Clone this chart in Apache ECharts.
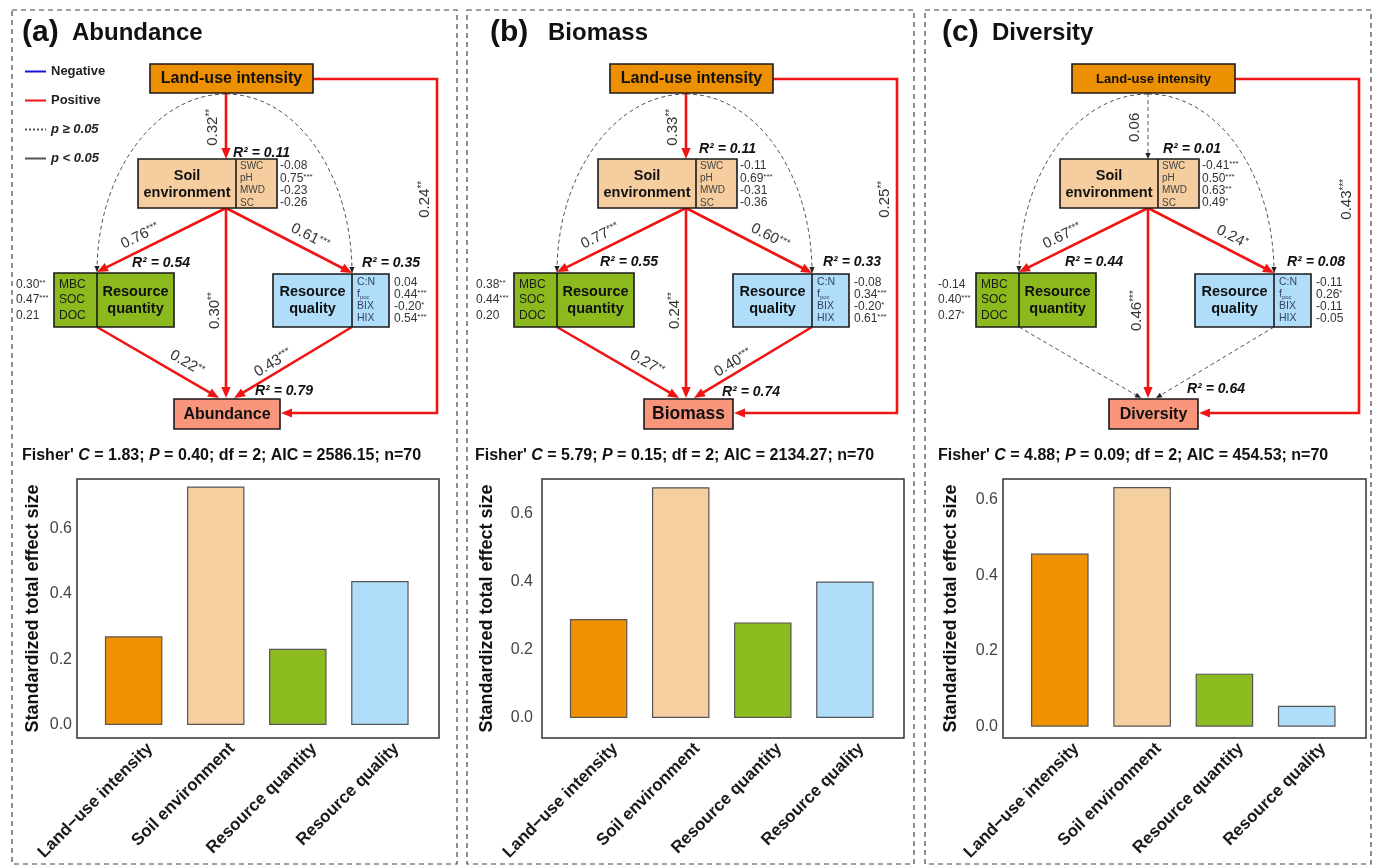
<!DOCTYPE html>
<html>
<head>
<meta charset="utf-8">
<script src="https://cdn.jsdelivr.net/npm/echarts@6/dist/echarts.min.js"></script>
<style>
html, body { margin: 0; background: #fff; }
#main { width: 1378px; height: 866px; }
</style>
</head>
<body>
<div id="main"></div>
<script>
// ---------- data ----------
var categories = ['Land\u2212use intensity', 'Soil environment', 'Resource quantity', 'Resource quality'];
var effectAbundance = [0.27, 0.727, 0.232, 0.439];
var effectBiomass   = [0.29, 0.676, 0.28, 0.40];
var effectDiversity = [0.457, 0.633, 0.14, 0.055];
var yTicks = [0, 0.2, 0.4, 0.6];

var panelTags = ['(a)', '(b)', '(c)'];
var responses = ['Abundance', 'Biomass', 'Diversity'];

// path order: LUI>Soil, LUI>Resp, Soil>Quan, Soil>Qual, Soil>Resp, Quan>Resp, Qual>Resp, LUI>Quan, LUI>Qual
var pathAbundance = [0.32, 0.24, 0.76, 0.61, 0.30, 0.22, 0.43, null, null];
var starAbundance = ['**', '**', '***', '***', '**', '**', '***', '', ''];
var pathBiomass   = [0.33, 0.25, 0.77, 0.60, 0.24, 0.27, 0.40, null, null];
var starBiomass   = ['**', '**', '***', '***', '**', '**', '***', '', ''];
var pathDiversity = [0.06, 0.43, 0.67, 0.24, 0.46, null, null, null, null];
var starDiversity = ['', '***', '***', '*', '***', '', '', '', ''];

// R2 : soil, quantity, quality, response
var r2Abundance = [0.11, 0.54, 0.35, 0.79];
var r2Biomass   = [0.11, 0.55, 0.33, 0.74];
var r2Diversity = [0.01, 0.44, 0.08, 0.64];

var soilVars = ['SWC', 'pH', 'MWD', 'SC'];
var quanVars = ['MBC', 'SOC', 'DOC'];
var qualVars = ['C:N', 'f{u|poc}', 'BIX', 'HIX'];

var soilLoadAbundance = [-0.08, 0.75, -0.23, -0.26];
var soilStarAbundance = ['', '***', '', ''];
var soilLoadBiomass   = [-0.11, 0.69, -0.31, -0.36];
var soilStarBiomass   = ['', '***', '', ''];
var soilLoadDiversity = [-0.41, 0.50, 0.63, 0.49];
var soilStarDiversity = ['***', '***', '**', '*'];

var quanLoadAbundance = [0.30, 0.47, 0.21];
var quanStarAbundance = ['**', '***', ''];
var quanLoadBiomass   = [0.38, 0.44, 0.20];
var quanStarBiomass   = ['**', '***', ''];
var quanLoadDiversity = [-0.14, 0.40, 0.27];
var quanStarDiversity = ['', '***', '*'];

var qualLoadAbundance = [0.04, 0.44, -0.20, 0.54];
var qualStarAbundance = ['', '***', '*', '***'];
var qualLoadBiomass   = [-0.08, 0.34, -0.20, 0.61];
var qualStarBiomass   = ['', '***', '*', '***'];
var qualLoadDiversity = [-0.11, 0.26, -0.11, -0.05];
var qualStarDiversity = ['', '*', '', ''];

var fisherC   = [1.83, 5.79, 4.88];
var fisherP   = [0.40, 0.15, 0.09];
var fisherDf  = [2, 2, 2];
var fisherAIC = [2586.15, 2134.27, 454.53];
var fisherN   = [70, 70, 70];

// ---------- grouping ----------
var EFFECTS = [effectAbundance, effectBiomass, effectDiversity];
var PATHS = [pathAbundance, pathBiomass, pathDiversity];
var STARS = [starAbundance, starBiomass, starDiversity];
var R2 = [r2Abundance, r2Biomass, r2Diversity];
var SOIL = [[soilLoadAbundance, soilStarAbundance], [soilLoadBiomass, soilStarBiomass], [soilLoadDiversity, soilStarDiversity]];
var QUAN = [[quanLoadAbundance, quanStarAbundance], [quanLoadBiomass, quanStarBiomass], [quanLoadDiversity, quanStarDiversity]];
var QUAL = [[qualLoadAbundance, qualStarAbundance], [qualLoadBiomass, qualStarBiomass], [qualLoadDiversity, qualStarDiversity]];

// ---------- layout / style ----------
var FONT = '"Liberation Sans", Arial, Helvetica, sans-serif';
var BAR_COLORS = ['#EF9100', '#F5CFA0', '#8DBC20', '#B0DEFA'];
var POS_COLOR = '#F01414', NEG_COLOR = '#1414E0', NS_COLOR = '#555';
var PANEL_X = [0, 460, 922];
var FRAMES = [[12, 457], [467, 914], [925, 1371]];
var BAR_GRID = [[77, 362], [542, 362], [1003, 363]];
var Y_RANGE = [[-0.04, 0.75], [-0.0585, 0.70], [-0.03, 0.654]];
var NAME_GAP = [35, 46, 43];
var LABEL_MARGIN = [5, 9, 5];
var TITLE_X = [[22, 72], [490, 548], [942, 992]];
var FISHER_X = [22, 475, 938];

var BOX = {
  lui:  {x0: 150, y0: 64,  x1: 313, y1: 93},
  soil: {x0: 138, y0: 159, x1: 277, y1: 208, div: 236},
  quan: {x0: 54,  y0: 273, x1: 174, y1: 327, div: 97},
  qual: {x0: 273, y0: 274, x1: 389, y1: 327, div: 352}
};
var RESP_BOX = [[174, 280], [184, 273], [187, 276]];
var RESP_FONT = [16, 17.5, 16];
var LUI_FONT = [16, 16, 13];
var R2_POS = [
  [[233, 153], [132, 263], [362, 263], [255, 391]],
  [[239, 149], [140, 262], [363, 262], [262, 392]],
  [[241, 149], [143, 262], [365, 262], [265, 389]]
];
var EDGE_GEOM = [
  {pts: [[226, 93], [226, 159]], seg: 0, t: 0.52, d: 13},
  {pts: [[313, 79], [437, 79], [437, 413], [null, 413]], seg: 1, t: 0.36, d: 12},
  {pts: [[226, 208], [97, 272]], seg: 0, t: 0.62, d: 13},
  {pts: [[226, 208], [352, 273]], seg: 0, t: 0.62, d: 13},
  {pts: [[226, 208], [226, 398]], seg: 0, t: 0.54, d: 11},
  {pts: [[97, 327], [219, 398]], seg: 0, t: 0.68, d: 14},
  {pts: [[352, 327], [234, 398]], seg: 0, t: 0.625, d: 10},
  {curve: [[226, 94], [155, 94], [97, 174], [97, 272]]},
  {curve: [[226, 94], [296, 94], [352, 174], [352, 273]]}
];

function fmt(v) { return v.toFixed(2); }
function starText(v, st) { return '{v|' + fmt(v) + '}' + (st ? '{s|' + st + '}' : ''); }
function starRich(size, color) {
  return {
    v: {fontSize: size, fontFamily: FONT, fill: color},
    s: {fontSize: Math.round(size * 0.66), fontFamily: FONT, fill: color, verticalAlign: 'top'}
  };
}

function textEl(pt, text, style) {
  var st = {text: text, fontFamily: FONT, fill: '#222', align: 'left', verticalAlign: 'middle'};
  for (var k in style) st[k] = style[k];
  return {type: 'text', x: pt[0], y: pt[1], style: st};
}

function rectEl(api, x0, y0, x1, y1, fill) {
  var a = api.coord([x0, y0]), b = api.coord([x1, y1]);
  return {type: 'rect', shape: {x: a[0], y: a[1], width: b[0] - a[0], height: b[1] - a[1]},
    style: {fill: fill, stroke: '#1a1a1a', lineWidth: 1.6}};
}
function divEl(api, x, y0, y1) {
  var a = api.coord([x, y0]), b = api.coord([x, y1]);
  return {type: 'line', shape: {x1: a[0], y1: a[1], x2: b[0], y2: b[1]}, style: {stroke: '#1a1a1a', lineWidth: 1.6}};
}
function r2El(api, p, i) {
  return textEl(api.coord(R2_POS[p][i]), 'R\u00b2 = ' + fmt(R2[p][i]),
    {fontSize: 14, fontWeight: 'bold', fontStyle: 'italic', fill: '#111'});
}

function renderEdge(p, k, api) {
  var g = EDGE_GEOM[k];
  var coef = PATHS[p][k], st = STARS[p][k];
  var sig = st !== '';
  var color = sig ? (coef < 0 ? NEG_COLOR : POS_COLOR) : NS_COLOR;
  var lw = sig ? 2.6 : 1;
  var headL = sig ? 11 : 6, headW = sig ? 4.6 : 2.6;
  var headFill = sig ? color : '#222';
  var children = [];
  var tip, from, pts;
  if (g.curve) {
    var c = g.curve.map(function (pt) { return api.coord(pt); });
    children.push({type: 'bezierCurve',
      shape: {x1: c[0][0], y1: c[0][1], cpx1: c[1][0], cpy1: c[1][1], cpx2: c[2][0], cpy2: c[2][1], x2: c[3][0], y2: c[3][1]},
      style: {stroke: color, lineWidth: lw, lineDash: sig ? null : [4, 3], fill: null}});
    tip = c[3]; from = c[2];
  } else {
    pts = g.pts.map(function (pt) {
      return api.coord([pt[0] === null ? RESP_BOX[p][1] + 1 : pt[0], pt[1]]);
    });
    tip = pts[pts.length - 1]; from = pts[pts.length - 2];
    var len = Math.hypot(tip[0] - from[0], tip[1] - from[1]);
    var cut = headL * 0.7 / len;
    var line = pts.slice(0, pts.length - 1);
    line.push([tip[0] - (tip[0] - from[0]) * cut, tip[1] - (tip[1] - from[1]) * cut]);
    children.push({type: 'polyline', shape: {points: line},
      style: {stroke: color, lineWidth: lw, lineDash: sig ? null : [4, 3], fill: null}});
  }
  var ux = tip[0] - from[0], uy = tip[1] - from[1];
  var ul = Math.hypot(ux, uy); ux /= ul; uy /= ul;
  var bx = tip[0] - ux * headL, by = tip[1] - uy * headL;
  children.push({type: 'polygon',
    shape: {points: [tip, [bx - uy * headW, by + ux * headW], [bx + uy * headW, by - ux * headW]]},
    style: {fill: headFill}});

  if (coef !== null && pts) {
    var a = pts[g.seg], b = pts[g.seg + 1];
    var rot = Math.atan2(-(b[1] - a[1]), b[0] - a[0]);
    if (rot <= -Math.PI / 2 + 1e-9) rot += Math.PI;
    if (rot > Math.PI / 2 + 1e-9) rot -= Math.PI;
    var upx = -Math.sin(rot), upy = -Math.cos(rot);
    var cx = a[0] + (b[0] - a[0]) * g.t + upx * g.d;
    var cy = a[1] + (b[1] - a[1]) * g.t + upy * g.d;
    children.push({type: 'text', x: cx, y: cy, rotation: rot,
      style: {text: starText(coef, st), rich: starRich(15, '#333'), align: 'center', verticalAlign: 'middle'}});
  }
  return {type: 'group', children: children};
}

var NODE_KEYS = ['lui', 'soil', 'quan', 'qual', 'resp'];

function renderNode(p, key, api) {
  var ch = [];
  var boxFont = {fontSize: 14.5, fontWeight: 'bold', fill: '#111', align: 'center', lineHeight: 17};
  var i, y, b;
  if (key === 'lui') {
    b = BOX.lui;
    ch.push(rectEl(api, b.x0, b.y0, b.x1, b.y1, '#EC8F00'));
    ch.push(textEl(api.coord([(b.x0 + b.x1) / 2, (b.y0 + b.y1) / 2 + 0.5]), 'Land-use intensity',
      {fontSize: LUI_FONT[p], fontWeight: 'bold', fill: '#111', align: 'center'}));
  } else if (key === 'soil') {
    b = BOX.soil;
    var scy = (b.y0 + b.y1) / 2 + 1;
    ch.push(rectEl(api, b.x0, b.y0, b.x1, b.y1, '#F5CD9E'));
    ch.push(divEl(api, b.div, b.y0, b.y1));
    ch.push(textEl(api.coord([(b.x0 + b.div) / 2, scy]), 'Soil\nenvironment', boxFont));
    for (i = 0; i < soilVars.length; i++) {
      y = scy + (i - 1.5) * 12.3;
      ch.push(textEl(api.coord([b.div + 4, y]), soilVars[i], {fontSize: 10, fill: '#444'}));
      ch.push(textEl(api.coord([b.x1 + 3, y]), starText(SOIL[p][0][i], SOIL[p][1][i]), {rich: starRich(12, '#333')}));
    }
    ch.push(r2El(api, p, 0));
  } else if (key === 'quan') {
    b = BOX.quan;
    var qcy = (b.y0 + b.y1) / 2;
    ch.push(rectEl(api, b.x0, b.y0, b.x1, b.y1, '#8CBA1E'));
    ch.push(divEl(api, b.div, b.y0, b.y1));
    ch.push(textEl(api.coord([(b.div + b.x1) / 2, qcy]), 'Resource\nquantity', boxFont));
    for (i = 0; i < quanVars.length; i++) {
      y = qcy + (i - 1) * 15.5;
      ch.push(textEl(api.coord([b.x0 + 5, y]), quanVars[i], {fontSize: 12, fill: '#1a1a1a'}));
      ch.push(textEl(api.coord([b.x0 - 38, y]), starText(QUAN[p][0][i], QUAN[p][1][i]), {rich: starRich(12, '#333')}));
    }
    ch.push(r2El(api, p, 1));
  } else if (key === 'qual') {
    b = BOX.qual;
    var lcy = (b.y0 + b.y1) / 2;
    ch.push(rectEl(api, b.x0, b.y0, b.x1, b.y1, '#B0DDF9'));
    ch.push(divEl(api, b.div, b.y0, b.y1));
    ch.push(textEl(api.coord([(b.x0 + b.div) / 2, lcy]), 'Resource\nquality', boxFont));
    for (i = 0; i < qualVars.length; i++) {
      y = lcy + (i - 1.5) * 12;
      ch.push(textEl(api.coord([b.div + 5, y]), '{n|' + qualVars[i].replace('{u|', '}{u|'),
        {rich: {n: {fontSize: 10.5, fontFamily: FONT, fill: '#33446a'},
                u: {fontSize: 6, fontFamily: FONT, fill: '#33446a', verticalAlign: 'bottom'}}}));
      ch.push(textEl(api.coord([b.x1 + 5, y]), starText(QUAL[p][0][i], QUAL[p][1][i]), {rich: starRich(12, '#333')}));
    }
    ch.push(r2El(api, p, 2));
  } else {
    var rb = RESP_BOX[p];
    ch.push(rectEl(api, rb[0], 399, rb[1], 429, '#F9957A'));
    ch.push(textEl(api.coord([(rb[0] + rb[1]) / 2, 414.5]), responses[p],
      {fontSize: RESP_FONT[p], fontWeight: 'bold', fill: '#111', align: 'center'}));
    ch.push(r2El(api, p, 3));
  }
  return {type: 'group', children: ch};
}

// close the rich token of each quality variable ("f{u|poc}" keeps its own)
qualVars = qualVars.map(function (s) { return s.indexOf('{u|') >= 0 ? s : s + '}'; });

var grids = [], xAxes = [], yAxes = [], series = [], graphic = [];

[0, 1, 2].forEach(function (p) {
  grids.push({left: BAR_GRID[p][0], top: 479, width: BAR_GRID[p][1], height: 259,
    show: true, borderColor: '#333', borderWidth: 1.5, backgroundColor: 'transparent', outerBoundsMode: 'none'});
  xAxes.push({type: 'value', gridIndex: p, min: 0.31, max: 4.72,
    axisLine: {show: false}, splitLine: {show: false}, axisTick: {show: false},
    axisLabel: {customValues: [1.2, 2.2, 3.2, 4.2], rotate: 45, margin: 8,
      formatter: function (v) { return categories[Math.round(v) - 1]; },
      fontSize: 17, fontWeight: 'bold', color: '#1a1a1a', fontFamily: FONT}});
  yAxes.push({type: 'value', gridIndex: p, min: Y_RANGE[p][0], max: Y_RANGE[p][1],
    axisLine: {show: false}, splitLine: {show: false}, axisTick: {show: false},
    axisLabel: {customValues: yTicks, margin: LABEL_MARGIN[p], formatter: function (v) { return v.toFixed(1); },
      fontSize: 16, color: '#444', fontFamily: FONT},
    name: 'Standardized total effect size', nameLocation: 'middle', nameGap: NAME_GAP[p],
    nameTextStyle: {fontSize: 18, fontWeight: 'bold', color: '#111', fontFamily: FONT}});
  series.push({type: 'bar', xAxisIndex: p, yAxisIndex: p, barWidth: '70%',
    itemStyle: {borderColor: '#555', borderWidth: 1.2},
    data: EFFECTS[p].map(function (v, i) { return {value: [i + 1, v], itemStyle: {color: BAR_COLORS[i]}}; })});
});

[0, 1, 2].forEach(function (p) {
  grids.push({left: PANEL_X[p], top: 0, width: 460, height: 470, show: false, outerBoundsMode: 'none'});
  xAxes.push({type: 'value', gridIndex: 3 + p, min: 0, max: 460, show: false});
  yAxes.push({type: 'value', gridIndex: 3 + p, min: 0, max: 470, inverse: true, show: false});
  series.push({type: 'custom', xAxisIndex: 3 + p, yAxisIndex: 3 + p, silent: true, z: 3,
    data: EDGE_GEOM.map(function (g, k) { return [k, 0]; }),
    renderItem: function (params, api) { return renderEdge(p, params.dataIndex, api); }});
  series.push({type: 'custom', xAxisIndex: 3 + p, yAxisIndex: 3 + p, silent: true, z: 4,
    data: NODE_KEYS.map(function (k, i) { return [i, 0]; }),
    renderItem: function (params, api) { return renderNode(p, NODE_KEYS[params.dataIndex], api); }});

  graphic.push({type: 'rect', silent: true, shape: {x: FRAMES[p][0], y: 10, width: FRAMES[p][1] - FRAMES[p][0], height: 854},
    style: {fill: 'none', stroke: '#444', lineWidth: 1.2, lineDash: [5, 4]}});
  graphic.push({type: 'text', x: TITLE_X[p][0], y: 33, style: {text: panelTags[p], fontSize: 30, fontWeight: 'bold',
    fontFamily: FONT, fill: '#111', verticalAlign: 'middle'}});
  graphic.push({type: 'text', x: TITLE_X[p][1], y: 33, style: {text: responses[p], fontSize: 24, fontWeight: 'bold',
    fontFamily: FONT, fill: '#111', verticalAlign: 'middle'}});
  var b = {fontSize: 16, fontWeight: 'bold', fontFamily: FONT, fill: '#111'};
  var it = {fontSize: 16, fontWeight: 'bold', fontStyle: 'italic', fontFamily: FONT, fill: '#111'};
  graphic.push({type: 'text', x: FISHER_X[p], y: 456, style: {
    text: "{b|Fisher' }{i|C}{b| = " + fisherC[p].toFixed(2) + '; }{i|P}{b| = ' + fisherP[p].toFixed(2) +
      '; df = ' + fisherDf[p] + '; AIC = ' + fisherAIC[p].toFixed(2) + '; n=' + fisherN[p] + '}',
    rich: {b: b, i: it}, verticalAlign: 'middle'}});
});

// legend entries (panel a)
var legendItems = [
  {name: 'Negative', color: NEG_COLOR, type: 'solid', width: 3},
  {name: 'Positive', color: POS_COLOR, type: 'solid', width: 3},
  {name: 'p \u2265 0.05', color: '#555', type: 'dotted', width: 2.5},
  {name: 'p < 0.05', color: '#555', type: 'solid', width: 3}
];
legendItems.forEach(function (l) {
  series.push({type: 'line', name: l.name, xAxisIndex: 0, yAxisIndex: 0, data: [], symbol: 'none',
    itemStyle: {color: 'transparent', borderWidth: 0}, lineStyle: {color: l.color, type: l.type, width: l.width}});
});

var chart = echarts.init(document.getElementById('main'));
chart.setOption({
  animation: false,
  backgroundColor: '#fff',
  grid: grids,
  xAxis: xAxes,
  yAxis: yAxes,
  legend: {
    orient: 'vertical', left: 19, top: 60, itemWidth: 21, itemHeight: 14, itemGap: 16,
    selectedMode: false,
    itemStyle: {opacity: 0},
    textStyle: {fontSize: 13, fontWeight: 'bold', color: '#222', fontFamily: FONT},
    data: legendItems.map(function (l, i) {
      return i >= 2 ? {name: l.name, textStyle: {fontStyle: 'italic'}} : {name: l.name};
    })
  },
  graphic: graphic,
  series: series
});
</script>
</body>
</html>
